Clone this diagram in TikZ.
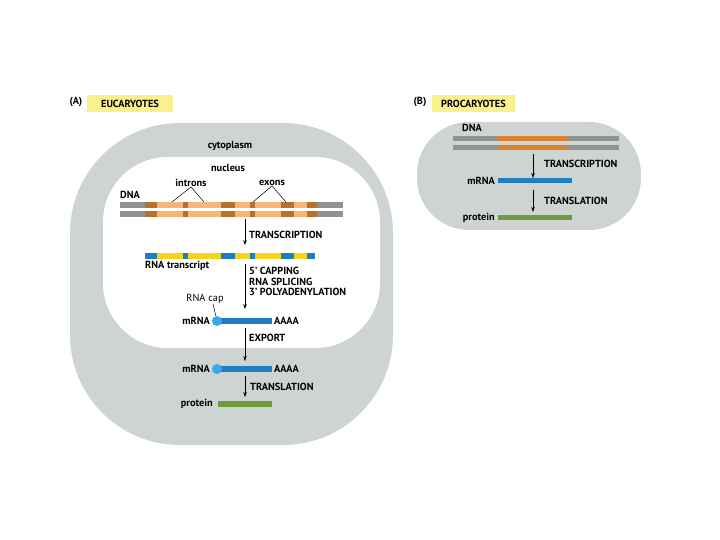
\documentclass[tikz,border=0pt]{standalone}
\usepackage{fontspec}
\setmainfont{PT Sans}
\usetikzlibrary{arrows.meta}
\definecolor{cellgray}{HTML}{CDD4D2}
\definecolor{dnagray}{HTML}{8F9291}
\definecolor{intronorange}{HTML}{F7B673}
\definecolor{exonorange}{HTML}{B8712D}
\definecolor{procorange}{HTML}{D9812B}
\definecolor{rnablue}{HTML}{1F7DC4}
\definecolor{capblue}{HTML}{37A9EA}
\definecolor{rnayellow}{HTML}{F6D21A}
\definecolor{protgreen}{HTML}{6F9B3F}
\definecolor{headyellow}{HTML}{FBF18C}
\begin{document}
\begin{tikzpicture}[
x=1pt,y=-1pt,
every node/.style={font=\fontsize{10.3}{10.5}\selectfont\bfseries,inner sep=0pt},
plain/.style={font=\fontsize{10.3}{10.5}\selectfont},
head/.style={fill=headyellow,minimum height=17pt},
flow/.style={-{Stealth[length=5pt,width=3.5pt]},line width=0.6pt},
pointer/.style={line width=0.5pt},
bar/.style={minimum height=6pt,anchor=west},
strand/.style={line width=6pt},
capdot/.style={circle,fill=capblue,minimum size=10pt}
]
\useasboundingbox (0,0) rectangle (720,540);
% headers
\node (labA) at (76,102) {(A)};
\node[head,minimum width=86pt] (eucHead) at (130,103.5) {EUCARYOTES};
\node (labB) at (420,102) {(B)};
\node[head,minimum width=83pt] (proHead) at (473.5,103.5) {PROCARYOTES};
% eucaryotic cell
\fill[cellgray,rounded corners=110pt] (70,123) rectangle (393,445);
\fill[white,rounded corners=65pt] (103,157) rectangle (380,348);
\node (cyto) at (230,146) {cytoplasm};
\node (nucleus) at (228,168) {nucleus};
\node (introns) at (191,183) {introns};
\node (exons) at (272,183) {exons};
\node[anchor=west] (dnaA) at (120,195) {DNA};
\foreach \y in {205,214}{
	\draw[strand,dnagray] (120,\y) -- (343,\y);
	\draw[strand,intronorange] (145,\y) -- (317,\y);
	\foreach \a/\b in {145/157,183/188,221/235,250/255,281/294,307/317}
		\draw[strand,exonorange] (\a,\y) -- (\b,\y);
}
\coordinate (in1) at (172,202);
\coordinate (in2) at (204,202);
\coordinate (ex1) at (253,202);
\coordinate (ex2) at (286,202);
\draw[pointer] (in1) -- (introns.south) -- (in2);
\draw[pointer] (ex1) -- (exons.south) -- (ex2);
% transcription
\coordinate (t1s) at (245,219);
\coordinate (t1e) at (245,245);
\draw[flow] (t1s) -- (t1e);
\node[anchor=west] (transA) at (249,235) {TRANSCRIPTION};
\foreach \a/\b/\c in {145/157/rnablue,157/183/rnayellow,183/188/rnablue,188/221/rnayellow,221/235/rnablue,235/250/rnayellow,250/255/rnablue,255/281/rnayellow,281/294/rnablue,294/307/rnayellow,307/315/rnablue}
	\fill[\c] (\a,253) rectangle (\b,259);
\node[anchor=west] (rnatr) at (145,266) {RNA transcript};
% processing
\coordinate (t2s) at (245,264);
\coordinate (t2e) at (245,309);
\draw[flow] (t2s) -- (t2e);
\node[anchor=west,align=left] (proc) at (249,281.5) {5' CAPPING\\RNA SPLICING\\3' POLYADENYLATION};
\node[plain] (rnacap) at (205,299) {RNA cap};
\node[bar,fill=rnablue,minimum width=55pt] (mrna1) at (217,321) {};
\node[capdot] (cap1) at (217,321) {};
\draw[pointer] ([xshift=8pt]rnacap.south) -- (cap1);
\node[anchor=east] (mlab1) at (210,321) {mRNA};
\node[anchor=west] (polyA1) at (274,321) {AAAA};
% export
\coordinate (t3s) at (245,328);
\coordinate (t3e) at (245,361);
\draw[flow] (t3s) -- (t3e);
\node[anchor=west] (export) at (249,338) {EXPORT};
\node[bar,fill=rnablue,minimum width=55pt] (mrna2) at (217,369) {};
\node[capdot] (cap2) at (217,369) {};
\node[anchor=east] (mlab2) at (210,369) {mRNA};
\node[anchor=west] (polyA2) at (274,369) {AAAA};
% translation
\coordinate (t4s) at (245,376);
\coordinate (t4e) at (245,397);
\draw[flow] (t4s) -- (t4e);
\node[anchor=west] (transl) at (250,387) {TRANSLATION};
\node[bar,fill=protgreen,minimum width=54pt] (protA) at (218,404) {};
\node[anchor=east] (plabA) at (213,404) {protein};
% procaryotic cell
\fill[cellgray,rounded corners=52pt] (417,122) rectangle (641,230);
\node (dnaB) at (472,128) {DNA};
\foreach \y in {139,148}{
	\draw[line width=5pt,dnagray] (453,\y) -- (619,\y);
	\draw[line width=5pt,procorange] (498,\y) -- (567,\y);
}
\coordinate (p1s) at (533,154);
\coordinate (p1e) at (533,178);
\draw[flow] (p1s) -- (p1e);
\node[anchor=west] (transB) at (544,164) {TRANSCRIPTION};
\node[bar,fill=rnablue,minimum width=74pt,minimum height=5pt] (mrnaB) at (498,181) {};
\node[anchor=east] (mlabB) at (495,181) {mRNA};
\coordinate (p2s) at (533,190);
\coordinate (p2e) at (533,212);
\draw[flow] (p2s) -- (p2e);
\node[anchor=west] (translB) at (544,201) {TRANSLATION};
\node[bar,fill=protgreen,minimum width=74pt,minimum height=5pt] (protB) at (498,218) {};
\node[anchor=east] (plabB) at (495,218) {protein};
\end{tikzpicture}
\end{document}
